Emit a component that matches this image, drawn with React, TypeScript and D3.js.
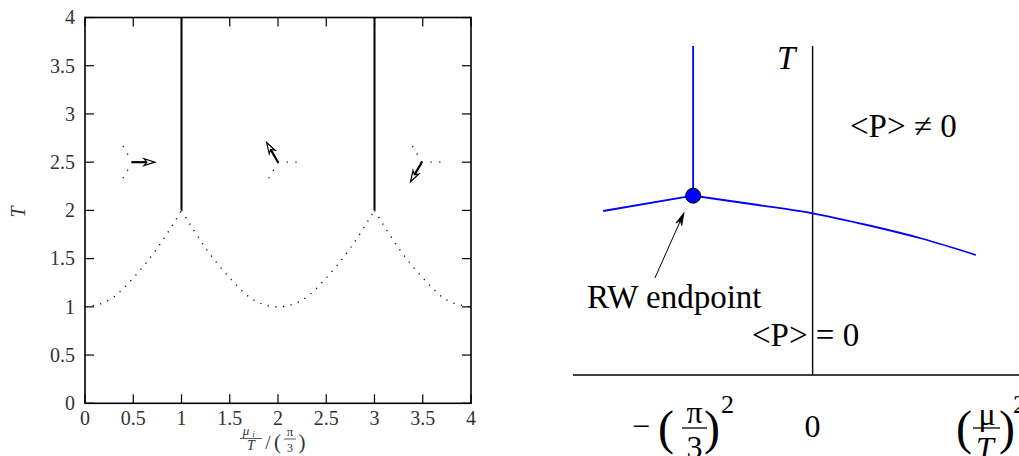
import React from 'react';
import * as d3 from 'd3';

const W = 1019;
const H = 456;

// ---------- Left panel data ----------
const xTickValues = [0, 0.5, 1, 1.5, 2, 2.5, 3, 3.5, 4];
const xTickLabels = ['0', '0.5', '1', '1.5', '2', '2.5', '3', '3.5', '4'];
const yTickValues = [0, 0.5, 1, 1.5, 2, 2.5, 3, 3.5, 4];
const yTickLabels = ['0', '0.5', '1', '1.5', '2', '2.5', '3', '3.5', '4'];

// Roberge-Weiss transition lines (solid)
const rwLineX = [1, 3];
const rwLineTStart = [2, 2];
const rwLineTEnd = [4, 4];

// Crossover curve (dotted), split at the cusps
const crossSegX = [
  [0, 0.25, 0.5, 0.75, 1],
  [1, 1.25, 1.5, 1.75, 2, 2.25, 2.5, 2.75, 3],
  [3, 3.25, 3.5, 3.75, 4],
];
const crossSegT = [
  [1, 1.07, 1.3, 1.61, 2],
  [2, 1.61, 1.3, 1.07, 1, 1.07, 1.3, 1.61, 2],
  [2, 1.61, 1.3, 1.07, 1],
];

// Z3 vacua indicators
const z3CenterX = [0.49, 2.0, 3.49];
const z3CenterT = [2.5, 2.5, 2.5];
const z3ArrowAngle = [0, 120, 240];
const z3RayAngles = [0, 120, 240];
const z3RayLength = 0.235;

// ---------- Right panel data ----------
const rDomainX = [-2.2, 1.895];
const rDomainT = [0, 3.3];
const rAxisTopT = 3.29;
const rwEndpointX = -1.097; // -(pi/3)^2
const rwEndpointT = 1.793;
const leftBranchX = [-1.923, -1.097];
const leftBranchT = [1.64, 1.793];
const rightBranchX = [-1.097, -0.5, 0, 0.5, 1.0, 1.5];
const rightBranchT = [1.793, 1.7, 1.617, 1.5, 1.365, 1.2];
const annotTailX = -1.448;
const annotTailT = 0.97;
const annotTipX = -1.18;
const annotTipT = 1.625;

const serif = '"Liberation Serif", "Times New Roman", Times, "DejaVu Serif", serif';
const serifStyle = { fontFamily: serif } as React.CSSProperties;

function HollowArrow({ x1, y1, x2, y2 }: { x1: number; y1: number; x2: number; y2: number }) {
  const dx = x2 - x1;
  const dy = y2 - y1;
  const len = Math.hypot(dx, dy);
  const ux = dx / len;
  const uy = dy / len;
  const hl = 11;
  const hw = 3.4;
  const bx = x2 - ux * hl;
  const by = y2 - uy * hl;
  const px = -uy;
  const py = ux;
  const pts = [
    [x2, y2],
    [bx + px * hw, by + py * hw],
    [bx + ux * 3, by + uy * 3],
    [bx - px * hw, by - py * hw],
  ];
  return (
    <g>
      <line x1={x1} y1={y1} x2={bx + ux * 3} y2={by + uy * 3} stroke="#000" strokeWidth={2.2} />
      <polygon points={pts.map((p) => p.join(',')).join(' ')} fill="#fff" stroke="#000" strokeWidth={1.2} strokeLinejoin="miter" />
    </g>
  );
}

function LeftPanel() {
  const x = d3.scaleLinear().domain([0, 4]).range([85, 471]);
  const y = d3.scaleLinear().domain([0, 4]).range([403.3, 17.5]);
  const tickLen = 9;
  const line = d3
    .line<[number, number]>()
    .x((d) => x(d[0]))
    .y((d) => y(d[1]))
    .curve(d3.curveMonotoneX);

  return (
    <g>
      {crossSegX.map((xs, i) => (
        <path
          key={'c' + i}
          d={line(xs.map((v, j) => [v, crossSegT[i][j]]) as [number, number][]) || ''}
          fill="none"
          stroke="#000"
          strokeWidth={1.3}
          strokeDasharray="1.2 6.5"
        />
      ))}
      {rwLineX.map((v, i) => (
        <line key={'rw' + i} x1={x(v)} x2={x(v)} y1={y(rwLineTStart[i])} y2={y(rwLineTEnd[i])} stroke="#000" strokeWidth={2} />
      ))}
      {z3CenterX.map((cx, i) => {
        const px = x(cx);
        const py = y(z3CenterT[i]);
        const Lpx = x(z3RayLength) - x(0);
        return (
          <g key={'z' + i}>
            {z3RayAngles
              .filter((a) => a !== z3ArrowAngle[i])
              .map((a) => {
                const r = (a * Math.PI) / 180;
                return (
                  <line
                    key={a}
                    x1={px}
                    y1={py}
                    x2={px + Math.cos(r) * Lpx}
                    y2={py - Math.sin(r) * Lpx}
                    stroke="#000"
                    strokeWidth={1.3}
                    strokeDasharray="1.2 7.5"
                  />
                );
              })}
            {(() => {
              const r = (z3ArrowAngle[i] * Math.PI) / 180;
              return <HollowArrow x1={px} y1={py} x2={px + Math.cos(r) * Lpx} y2={py - Math.sin(r) * Lpx} />;
            })()}
          </g>
        );
      })}
      <rect x={x(0)} y={y(4)} width={x(4) - x(0)} height={y(0) - y(4)} fill="none" stroke="#000" strokeWidth={1.6} />
      {xTickValues.map((v, i) => (
        <g key={'xt' + i}>
          <line x1={x(v)} x2={x(v)} y1={y(0)} y2={y(0) - tickLen} stroke="#000" strokeWidth={1.2} />
          <line x1={x(v)} x2={x(v)} y1={y(4)} y2={y(4) + tickLen} stroke="#000" strokeWidth={1.2} />
          <text x={x(v)} y={425} textAnchor="middle" style={serifStyle} fontSize={20} fill="#333">
            {xTickLabels[i]}
          </text>
        </g>
      ))}
      {yTickValues.map((v, i) => (
        <g key={'yt' + i}>
          <line x1={x(0)} x2={x(0) + tickLen} y1={y(v)} y2={y(v)} stroke="#000" strokeWidth={1.2} />
          <line x1={x(4)} x2={x(4) - tickLen} y1={y(v)} y2={y(v)} stroke="#000" strokeWidth={1.2} />
          <text x={75} y={y(v) + 6.8} textAnchor="end" style={serifStyle} fontSize={20} fill="#333">
            {yTickLabels[i]}
          </text>
        </g>
      ))}
      <text transform="translate(25,212) rotate(-90)" textAnchor="middle" style={serifStyle} fontStyle="italic" fontSize={20} fill="#333">
        T
      </text>
      <g style={serifStyle} fill="#333">
        <text x={246} y={435} textAnchor="middle" fontStyle="italic" fontSize={13}>μ</text>
        <text x={253.5} y={437} textAnchor="middle" fontStyle="italic" fontSize={9}>i</text>
        <line x1={240} x2={262} y1={438.5} y2={438.5} stroke="#333" strokeWidth={0.8} />
        <text x={251} y={450} textAnchor="middle" fontStyle="italic" fontSize={14}>T</text>
        <text x={268} y={449} textAnchor="middle" fontSize={19}>/</text>
        <text x={277.5} y={449} textAnchor="middle" fontSize={21}>(</text>
        <text x={290} y={436} textAnchor="middle" fontSize={13}>π</text>
        <line x1={284} x2={296} y1={439} y2={439} stroke="#333" strokeWidth={0.8} />
        <text x={290} y={452} textAnchor="middle" fontSize={12}>3</text>
        <text x={302} y={449} textAnchor="middle" fontSize={21}>)</text>
      </g>
    </g>
  );
}

function RightPanel() {
  const x = d3.scaleLinear().domain(rDomainX).range([573, 1019]);
  const y = d3.scaleLinear().domain(rDomainT).range([375, 45]);
  const straight = d3
    .line<[number, number]>()
    .x((d) => x(d[0]))
    .y((d) => y(d[1]));
  const curved = d3
    .line<[number, number]>()
    .x((d) => x(d[0]))
    .y((d) => y(d[1]))
    .curve(d3.curveMonotoneX);

  const tx = x(annotTailX), ty = y(annotTailT), hx = x(annotTipX), hy = y(annotTipT);
  const len = Math.hypot(hx - tx, hy - ty);
  const ux = (hx - tx) / len, uy = (hy - ty) / len;
  const hl = 13, hw = 3.2;
  const bx = hx - ux * hl, by = hy - uy * hl;
  const head = [
    [hx, hy],
    [bx - uy * hw, by + ux * hw],
    [bx + ux * 4, by + uy * 4],
    [bx + uy * hw, by - ux * hw],
  ];

  return (
    <g>
      <line x1={x(rDomainX[0])} x2={x(rDomainX[1])} y1={y(0)} y2={y(0)} stroke="#000" strokeWidth={1.4} />
      <line x1={x(0)} x2={x(0)} y1={y(0)} y2={y(rAxisTopT)} stroke="#000" strokeWidth={1.4} />
      <line x1={x(rwEndpointX)} x2={x(rwEndpointX)} y1={y(rwEndpointT)} y2={y(rAxisTopT)} stroke="#0000ff" strokeWidth={1.8} />
      <path d={straight(leftBranchX.map((v, i) => [v, leftBranchT[i]]) as [number, number][]) || ''} fill="none" stroke="#0000ff" strokeWidth={1.8} />
      <path d={curved(rightBranchX.map((v, i) => [v, rightBranchT[i]]) as [number, number][]) || ''} fill="none" stroke="#0000ff" strokeWidth={1.8} />
      <circle cx={x(rwEndpointX)} cy={y(rwEndpointT)} r={7.5} fill="#0000ff" stroke="#000" strokeWidth={1} />
      <line x1={tx} y1={ty} x2={bx + ux * 4} y2={by + uy * 4} stroke="#000" strokeWidth={1} />
      <polygon points={head.map((p) => p.join(',')).join(' ')} fill="#000" stroke="#000" strokeWidth={0.8} />
      <g style={serifStyle} fill="#000">
        <text x={777} y={69} fontStyle="italic" fontSize={33}>T</text>
        <text x={850} y={137} fontSize={33}>&lt;P&gt; ≠ 0</text>
        <text x={587} y={308} fontSize={33}>RW endpoint</text>
        <text x={752} y={346} fontSize={33}>&lt;P&gt; = 0</text>
        <text x={x(0)} y={437} textAnchor="middle" fontSize={32}>0</text>
        <text x={632} y={437} fontSize={32}>−</text>
        <text x={658} y={444} fontSize={48}>(</text>
        <text x={694.5} y={423} textAnchor="middle" fontSize={32}>π</text>
        <line x1={682} x2={707} y1={428} y2={428} stroke="#000" strokeWidth={1.3} />
        <text x={694.5} y={458} textAnchor="middle" fontSize={32}>3</text>
        <text x={704} y={444} fontSize={48}>)</text>
        <text x={721} y={413} fontSize={26}>2</text>
        <text x={956} y={444} fontSize={48}>(</text>
        <text x={987} y={425} textAnchor="middle" fontSize={32}>μ</text>
        <line x1={973} x2={1000} y1={428} y2={428} stroke="#000" strokeWidth={1.3} />
        <text x={985} y={459} textAnchor="middle" fontStyle="italic" fontSize={32}>T</text>
        <text x={999} y={444} fontSize={48}>)</text>
        <text x={1013} y={413} fontSize={26}>2</text>
      </g>
    </g>
  );
}

export default function App() {
  return (
    <div style={{ position: 'absolute', left: 0, top: 0, width: W, height: H, background: '#fff' }}>
      <style>{'body{margin:0;background:#fff;}'}</style>
      <svg width={W} height={H} viewBox={`0 0 ${W} ${H}`} style={{ display: 'block' }}>
        <rect width={W} height={H} fill="#fff" />
        <LeftPanel />
        <RightPanel />
      </svg>
    </div>
  );
}
